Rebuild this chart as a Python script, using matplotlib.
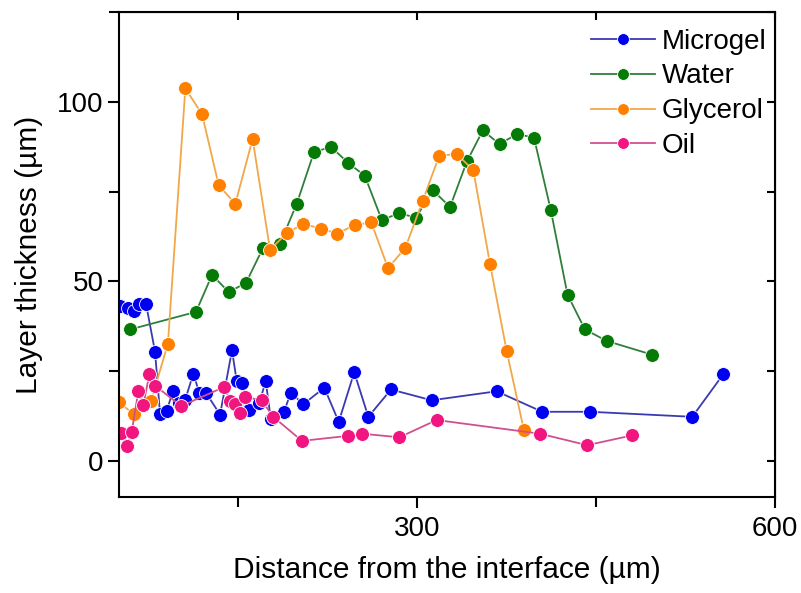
import matplotlib
matplotlib.use("Agg")
import matplotlib.pyplot as plt
from matplotlib.ticker import MultipleLocator

plt.rcParams["font.family"] = ["Liberation Sans", "DejaVu Sans"]

# Microgel
microgel_x = [50.8, 57.5, 62.8, 67.0, 72.6, 80.2, 84.4, 90.0, 95.0, 100.5, 105.3,
              112.3, 117.3, 122.9, 134.7, 144.7, 148.7, 153.4, 159.0, 167.6, 173.0,
              177.2, 188.3, 194.0, 204.5, 222.1, 234.2, 247.2, 259.0, 278.0, 312.1,
              366.6, 404.8, 444.8, 530.6, 556.5]
microgel_y = [43.2, 42.6, 41.7, 43.8, 43.8, 30.4, 13.0, 13.9, 19.4, 16.2, 16.9,
              24.3, 19.0, 19.0, 12.9, 30.8, 22.2, 21.8, 14.2, 16.2, 22.2,
              11.8, 13.7, 19.0, 15.8, 20.4, 10.9, 24.7, 12.3, 19.9, 16.9,
              19.4, 13.7, 13.7, 12.3, 24.1]

# Water
water_x = [59.2, 114.5, 128.0, 142.0, 156.5, 170.7, 185.0, 199.0, 213.5, 227.8,
           242.0, 256.0, 270.4, 284.7, 299.0, 313.0, 327.5, 341.7, 355.0, 369.0,
           383.6, 397.9, 412.0, 426.0, 440.6, 459.0, 496.8]
water_y = [36.6, 41.5, 51.8, 47.0, 49.6, 59.3, 60.5, 71.6, 86.0, 87.4,
           83.0, 79.4, 67.0, 69.0, 67.7, 75.4, 70.7, 83.4, 92.0, 88.2,
           91.0, 90.0, 69.8, 46.3, 36.6, 33.4, 29.6]

# Glycerol
glycerol_x = [50.0, 62.2, 76.8, 91.0, 105.6, 119.6, 133.6, 147.5, 162.0, 176.6,
              190.6, 204.5, 219.0, 233.0, 247.6, 261.5, 275.5, 290.0, 304.6, 318.5,
              333.0, 347.0, 361.0, 375.0, 389.5]
glycerol_y = [16.3, 13.1, 16.6, 32.7, 103.7, 96.5, 76.7, 71.6, 89.6, 58.8,
              63.4, 66.0, 64.7, 63.3, 65.7, 66.4, 53.7, 59.3, 72.4, 85.0,
              85.4, 81.0, 54.9, 30.6, 8.5]

# Oil
oil_x = [51.4, 56.4, 60.6, 66.2, 70.4, 75.4, 80.2, 102.0, 138.3, 143.0, 147.2,
         151.4, 155.6, 169.6, 179.3, 203.4, 242.2, 253.7, 285.0, 316.3, 402.9,
         442.5, 479.8]
oil_y = [7.7, 4.2, 8.1, 19.4, 15.6, 24.1, 21.0, 15.3, 20.6, 16.7, 16.0,
         13.4, 17.8, 16.9, 12.3, 5.6, 7.0, 7.6, 6.6, 11.4, 7.6,
         4.4, 7.1]

series = [
    ("Microgel", microgel_x, microgel_y, "#0000f0", "#3a3ab0"),
    ("Water", water_x, water_y, "#067a06", "#2f7f3a"),
    ("Glycerol", glycerol_x, glycerol_y, "#ff8000", "#f0a848"),
    ("Oil", oil_x, oil_y, "#f0157f", "#d0508f"),
]

fig = plt.figure(figsize=(8.01, 5.93), dpi=100)
ax = fig.add_axes([0.1486, 0.162, 0.819, 0.818])

for name, xs, ys, mcol, lcol in series:
    ax.plot(xs, ys, "-o", color=lcol, lw=1.3, marker="o", markersize=10,
            markerfacecolor=mcol, markeredgecolor="white", markeredgewidth=0.6,
            label=name, clip_on=True)

ax.set_xlim(50, 600)
ax.set_ylim(-10, 125)
ax.xaxis.set_major_locator(MultipleLocator(300))
ax.xaxis.set_minor_locator(MultipleLocator(150))
ax.yaxis.set_major_locator(MultipleLocator(50))
ax.yaxis.set_minor_locator(MultipleLocator(25))
ax.tick_params(which="major", direction="out", length=8, width=1.5, labelsize=20)
ax.tick_params(which="minor", direction="out", length=7, width=1.5)
ax.tick_params(axis="x", which="major", pad=6)
ax.tick_params(axis="y", which="major", pad=3)

for sp in ax.spines.values():
    sp.set_linewidth(1.5)

# mirrored ticks on top and right, pointing inward
top = ax.secondary_xaxis("top")
top.xaxis.set_major_locator(MultipleLocator(300))
top.xaxis.set_minor_locator(MultipleLocator(150))
top.tick_params(which="both", direction="in", length=6, width=1.5, labeltop=False)
right = ax.secondary_yaxis("right")
right.yaxis.set_major_locator(MultipleLocator(50))
right.yaxis.set_minor_locator(MultipleLocator(25))
right.tick_params(which="both", direction="in", length=6, width=1.5, labelright=False)

ax.set_xlabel("Distance from the interface (\u00b5m)", fontsize=21.5, labelpad=10)
ax.set_ylabel("Layer thickness (\u00b5m)", fontsize=21.5, labelpad=10)

ax.legend(loc="upper right", bbox_to_anchor=(1.012, 1.0), frameon=False,
          fontsize=20, handlelength=2.3, handletextpad=0.25, labelspacing=0.32,
          borderaxespad=0.2, markerscale=0.85)

fig.savefig("out.png", dpi=100, facecolor="white")
